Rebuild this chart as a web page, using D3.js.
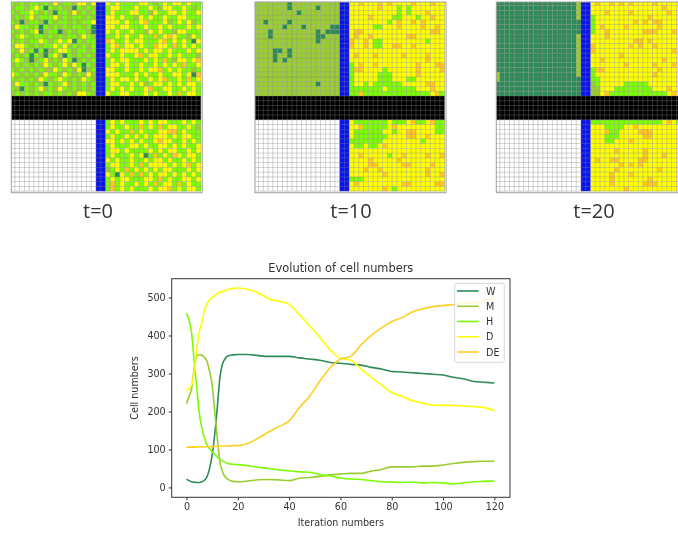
<!DOCTYPE html>
<html><head><meta charset="utf-8">
<script src="https://cdn.jsdelivr.net/npm/d3@7"></script>
<style>
html,body{margin:0;padding:0;background:#fff;overflow:hidden}
svg{display:block;filter:blur(0.5px)}
text{font-family:"DejaVu Sans",sans-serif;fill:#333}
</style></head><body>
<svg id="c" width="678" height="534"></svg>
<script>
// cell states: W M H D E(DE)
const upperLeft0=["HMHMHHMHMDMHHMDDMD","MHHMHDHWHMHMMWHMHM","HMHHDHMHMWHHMDMHMH","MHMHDMHHHDMHMHHMHM","HMWMHHMWHMHHMHMHHD","MDHHMHWHMHMHMHHMHW","HMHMHDWMHHWMHMHHMW","MHDHMHHMHMHMHHMDHM","HMHMHHDHMHDHDWHMHH","MDDHMHMHHDHDMHMHMH","HMDMHWHWMHDDHMHHMH","MHMHWHMWHDMWHMHMHM","HDHMWMHDMHMDHWMHMH","MHMHMHMDHMHDMDHWHM","HMHMHMHMMDHMHMDWMH","DHMHMHMDHHMDHMHMDM","HMHMHMDHMHDHMHMDHM","MDHHMHMWHMHDMHMHMH","HMWHMHDMHMDHMHMHMH","MHMHMHMHHMHMHMDDHM"];
const upperRight0=["DHDHHHHDDHMHDHDDHDHH","HDDHHHDHHDHMDDHHDHMH","HDHHHDDHHMDHHDDHDHHD","DDHDHHMDHDHHDHHDDHHH","DDDHDHHDEHHHDMHDHDMH","DDHDDHHHDHHDHDHHHDHD","DHDHHDHHMDHDHHMDDHHH","HHDHDHHDHHEHDEDHHMDH","EDHHDHDDHHHDEHDHDHWD","HDEHDDHDHHEDDHEHDHDH","HDHDDDDHDHDDHDHHHDHD","DHHDHHDEHDDHHDHDHHHM","HDHDDHHHDHDHEHMDDHDE","HDDHDHHDHHDHDHDHEHHD","DDHHDHHDHDDEHDHDHHMH","DDDHHHDHDHHDHHDDHDWE","HDHDDHDHHDHDEHHDHEHD","HDDHHDHDMHDDHDHDHDDH","HDHDHDHHDEHHDDHHDHDH","DHHDDHHHDHDHHDHEHDDH"];
const lowerRight0=["HDHDHHHDHDHDDHHHDHDH","HDHHDHHEHDHEHDDHHDHM","DHDHHEHDHHHDDEEHDHHH","HDHHDHDHDHDDDHDHDDHH","DDHDHDHDHHDEDDHHDHDH","HDHHHDDHDHHDDHDHDHHD","HDDHDHHHHDHDHDDHHDHD","HDHHHDHDWHEHDHEDHDDH","DHDHHDHHDHDDHDHHDHDH","HDDHHDHEHDDDDHDHDEHD","MHDHEHDHDHDHDDHHHDHD","DHWDHEHEHDHDDHDHDHDH","HDHDDHHHDDHEHDHHDDHD","HEHDHHDHDHEHDDHEHDHH","HEHDHDHHHDHDDEHDHDDH"];
const upperLeft10=["MMMMMMMWMMMMMMMMMM","MMMMMMMWMMMMMWMMMM","MMMMMMMMMWMMMMMMMM","MMMMMMMMMMMMMMMMMM","MMWMMMMWMMMMMMMMMM","MMMMMMWMMMWMMMMMWW","MMMWMMMMMMMMMWMWWW","MMMWMMMMMMMMMWWMMM","MMMMMMMMMMMMMWMMMM","MMMMMMMMMMMMMMMMMM","MMMMWWMWMMMMMMMMMM","MMMMWMMWMMMMMMMMMM","MMMMWMWMMMMMMMMMMM","MMMMMMMMMMMMMMMMMM","MMMMMMMMMMMMMMMMMM","MMMMMMMMMMMMMMMMMM","MMMMMMMMMMMMMMMMMM","MMMMMMMMMMMMMWMMMM","MMMMMMMMMMMMMMMMMM","MMMMMMMMMMMMMMMMMM"];
const upperRight10=["DDEDDDEDEDDDDEDDDEDD","DDDDDDEDDDHDHDDDDDDD","DDDDDDDDDDHDHDDDEDDD","DDDDEDDDDHHDDDHDDEDD","DDDDDDDDHDEDDEDEDDDD","DDDDDHHDDDEDDDDEDDED","DEEDDDDDDDDDDDDDDEED","DEDDEDDDDDDDEEDDDDDD","EDDEDHHDDDDDDDDDHDDD","EDDEDHHDDEEDDEDDDDDD","DDDDDDDDDDDDDDDDDDDD","DEDDDEDDDDDEDDDDEDDD","DDDDDDDDDDDDDDDDEDDD","HDEDDEDDDDDDDDEDDDEE","HEEDDDDHDDDDDDEDDDDE","HDDDDDHHHDDDDDEDDDDD","HDDDDDHHHDDDHHDDDDDD","HDDHDHHHHHHDDDDDEEDD","HHHHHHHDHHHHHHDDDEDD","HHEHHHHHHHHHHHHHHDEH"];
const lowerRight10=["DHHHHHHHDHHHDEHHDEHH","DDEHHHHHDEDDDDDDDDHH","DHHHHHHDDHDDEEDDDDHH","DHHHHHHHDDDDEEDDEDDD","HHHHHHHDDDDDDDDHDDDD","DHHDHHDEDDDDDDDDDDDD","DDDDDDDDDDDDDDDDDDDD","DDEDDDDDHDDEDDDDEDDE","DDDDEDDDDDEDDDDDDDDD","DDDDEEDDDDDEEDDDDEDD","DDDEDDEDDDDDDDDDEDDD","DDDDDDDEDDDDDDDDEDDE","HHHDDDDDDDDDDDDDDDDD","DEDDDDDDDDDEEDDDDDEE","DDDDDDDEDHDDDDDDDDDD"];
const upperLeft20=["WWWWWWWWWWWWWWWWWM","WWWWWWWWWWWWWWWWWM","WWWWWWWWWWWWWWWWWM","WWWWWWWWWWWWWWWWWM","WWWWWWWWWWWWWWWWWW","WWWWWWWWWWWWWWWWWW","WWWWWWWWWWWWWWWWWW","WWWWWWWWWWWWWWWWWM","WWWWWWWWWWWWWWWWWM","WWWWWWWWWWWWWWWWWM","WWWWWWWWWWWWWWWWWM","WWWWWWWWWWWWWWWWWM","WWWWWWWWWWWWWWWWWM","WWWWWWWWWWWWWWWWWM","WWWWWWWWWWWWWWWWWM","MWWWWWWWWWWWWWWWWM","MWWWWWWWWWWWWWWWWW","WWWWWWWWWWWWWWWWWW","WWWWWWWWWWWWWWWWWW","WWWWWWWWWWWWWWWWWW"];
const upperRight20=["DEDDEDEDEDDDDEDDDDDD","DDDDDDDDDDDDDDDEDDDD","DDDEDDDDEDDDDDDDEDDD","HDDDDDDDDDDDEDDDDDDD","HDDDDDDDDEDEDEEDDDDD","HDEDDDDEDDDDDDEDDDDD","HDDEDDDDDDDEEEDDDEDD","DDDEDDDDDDDDDDDDDDDD","DDDDDDDDDEEDEDDDDDDD","EDDDDDDDEDEDDEDDDDDD","EDDDDDDDDDDDDDDDDEDD","DDDDDDEDDDDDDDDDDDDD","DDEDDDDDDDDDDDDEDDDD","DDDDDDDEDDDDDEDDDEDD","HEEDDDDDDDDDDDEDDDDD","HDDDDDDDDDDDDEDDDDDD","HHDDDDDDDDDDDDDDDDDE","MHDDDDDHHHHHDDDDDDDD","MMDDDHHHHHHHHDDDEDDD","MMDEHHHHHHHHHHHHDEDD"];
const lowerRight20=["HHHHHHHHHHHHHHHDEDHD","DDDHHHHDDEDDDDDDDDDD","DDDEHHDDDDEEEDDDDDDD","DDDHHHDDDDDEEDDDDDDD","DDDHHDDDEDDDDDDDDDDD","DDDDDDDDDDDDDDDDDDDD","DDDDDEDDDDDEDDDDDDDD","DDDDDDDDDDDEDDDEDDDD","DEDDEEDDDDEEDDDDDDDD","DDDDDDEDEDEDDDDDDDDD","DDDDDEDDDDDDDDEDDDDD","DDDDEDDDEDDDDDDDDDDD","DDDDEDDDDDDDEDDDDDDD","DDDDEDDDDDDEEEDDDDDD","DDDDDDDEDDDDDDDDDDDD"];
const panelLabels=["t=0","t=10","t=20"];

// line chart data
const iterations=[0,1,2,3,4,5,6,7,8,9,10,11,12,13,14,15,16,18,20,24,28,32,36,40,44,48,52,56,60,64,68,72,76,80,84,88,92,96,100,104,108,112,116,120];
const seriesNames=["W","M","H","D","DE"];
const seriesW=[22,18,15,14,13,13,15,19,28,50,85,140,210,288,325,338,346,349,350,350,347,345,345,345,341,338,335,329,327,324,322,316,312,305,304,302,300,298,296,290,286,279,277,275];
const seriesM=[220,240,261,314,345,350,348,342,332,305,270,200,130,68,42,28,22,16,15,17,20,21,20,18,24,26,29,33,35,37,37,43,47,54,54,54,56,56,59,63,66,68,69,69];
const seriesH=[459,440,406,331,261,195,156,130,112,102,94,87,80,74,70,66,63,61,60,57,53,50,46,44,41,40,34,30,25,22,21,18,15,14,13,14,12,13,12,9,12,15,16,17];
const seriesD=[255,260,270,305,365,410,435,465,483,494,500,505,510,514,516,518,520,524,525,521,512,497,490,482,455,425,395,362,340,335,312,290,270,250,240,228,222,217,216,216,214,213,210,202];
const seriesDE=[106,106,106,106,106,107,107,107,107,107,107,108,108,109,109,109,109,110,110,116,130,146,160,175,210,240,280,315,338,345,375,400,420,437,447,462,470,476,479,481,485,486,492,497];
const xTicks=[0,20,40,60,80,100,120];
const yTicks=[0,100,200,300,400,500];
const chartTitle="Evolution of cell numbers",xLabel="Iteration numbers",yLabel="Cell numbers";

const stateColor={W:"#2e8b57",M:"#9acd32",H:"#7cfc00",D:"#ffff00",E:"#ffc81e"};
const lineColor=["#2e8b57","#9acd32","#7cfc00","#ffff00","#ffcf20"];
const svg=d3.select("#c");
const defs=svg.append("defs");

function drawPanel(px,labelX,i,ul,ur,lr){
  const side=191,pad=1.2;
  const cx=d3.scaleBand().domain(d3.range(40)).range([px-pad,px-pad+190.8]);
  const cy=d3.scaleBand().domain(d3.range(40)).range([2-pad,2-pad+190.4]);
  const id="clip"+i;
  defs.append("clipPath").attr("id",id).append("rect").attr("x",px).attr("y",2).attr("width",side).attr("height",190.7);
  const g=svg.append("g").attr("clip-path",`url(#${id})`);
  const cells=[];
  ul.forEach((r,ri)=>[...r].forEach((s,ci)=>cells.push({c:ci,r:ri,s})));
  ur.forEach((r,ri)=>[...r].forEach((s,ci)=>cells.push({c:ci+20,r:ri,s})));
  lr.forEach((r,ri)=>[...r].forEach((s,ci)=>cells.push({c:ci+20,r:ri+25,s})));
  g.selectAll("rect.cell").data(cells).join("rect").attr("class","cell")
    .attr("x",d=>cx(d.c)).attr("y",d=>cy(d.r)).attr("width",cx.bandwidth()+.05).attr("height",cy.bandwidth()+.05)
    .attr("fill",d=>stateColor[d.s]);
  g.append("rect").attr("x",cx(18)).attr("y",cy(0)).attr("width",2*cx.bandwidth()).attr("height",40*cy.bandwidth()).attr("fill","#0a14f0");
  g.append("rect").attr("x",cx(0)).attr("y",cy(20)).attr("width",40*cx.bandwidth()).attr("height",5*cy.bandwidth()).attr("fill","#000");
  const gl="#808080";
  g.selectAll("line.v").data(d3.range(41)).join("line").attr("class","v")
    .attr("x1",d=>cx(0)+d*cx.bandwidth()).attr("x2",d=>cx(0)+d*cx.bandwidth())
    .attr("y1",2).attr("y2",191).attr("stroke",gl).attr("stroke-width",.6).attr("opacity",.6);
  g.selectAll("line.h").data(d3.range(41)).join("line").attr("class","h")
    .attr("y1",d=>cy(0)+d*cy.bandwidth()).attr("y2",d=>cy(0)+d*cy.bandwidth())
    .attr("x1",px).attr("x2",px+side-1).attr("stroke",gl).attr("stroke-width",.6).attr("opacity",.6);
  svg.append("rect").attr("x",px).attr("y",2).attr("width",side).attr("height",190.7)
    .attr("fill","none").attr("stroke","#a0a0a0").attr("stroke-width",1);
  svg.append("text").attr("x",labelX).attr("y",218).attr("text-anchor","middle")
    .style("font-family","'Open Sans',sans-serif").style("font-size","20px").text(panelLabels[i]);
}
drawPanel(11.3,98,0,upperLeft0,upperRight0,lowerRight0);
drawPanel(255,351,1,upperLeft10,upperRight10,lowerRight10);
drawPanel(496.3,594,2,upperLeft20,upperRight20,lowerRight20);

// line chart
const L=171.7,R=510,T=278.7,B=497.3;
const x=d3.scaleLinear().domain([-5.77,126.1]).range([L,R]);
const y=d3.scaleLinear().domain([-26,549.5]).range([B,T]);
const gx=svg.append("g").attr("transform",`translate(0,${B})`).call(d3.axisBottom(x).tickValues(xTicks).tickSize(3).tickPadding(3));
const gy=svg.append("g").attr("transform",`translate(${L},0)`).call(d3.axisLeft(y).tickValues(yTicks).tickSize(3).tickPadding(3));
[gx,gy].forEach(a=>{a.select(".domain").remove();a.selectAll("line").attr("stroke","#333");a.selectAll("text").style("font-size","9.6px").style("font-family","'DejaVu Sans'").attr("fill","#333");});
const line=d3.line().x((d,i)=>x(iterations[i])).y(d=>y(d)).curve(d3.curveMonotoneX);
[seriesW,seriesM,seriesH,seriesD,seriesDE].forEach((s,i)=>{
  svg.append("path").datum(s).attr("d",line).attr("fill","none").attr("stroke",lineColor[i]).attr("stroke-width",1.6);
});
svg.append("rect").attr("x",L).attr("y",T).attr("width",R-L).attr("height",B-T).attr("fill","none").attr("stroke","#333").attr("stroke-width",1);
svg.append("text").attr("x",(L+R)/2).attr("y",272).attr("text-anchor","middle").style("font-size","11.4px").text(chartTitle);
svg.append("text").attr("x",(L+R)/2).attr("y",526).attr("text-anchor","middle").style("font-size","9.6px").text(xLabel);
svg.append("text").attr("transform",`translate(138,${(T+B)/2}) rotate(-90)`).attr("text-anchor","middle").style("font-size","9.6px").text(yLabel);
// legend
svg.append("rect").attr("x",454.7).attr("y",283.3).attr("width",49.6).attr("height",79).attr("rx",2)
  .attr("fill","#fff").attr("fill-opacity",.8).attr("stroke","#ccc").attr("stroke-width",.8);
const legendY=d3.scalePoint().domain(seriesNames).range([291,352]);
seriesNames.forEach((n,i)=>{
  svg.append("line").attr("x1",457).attr("x2",478.7).attr("y1",legendY(n)).attr("y2",legendY(n)).attr("stroke",lineColor[i]).attr("stroke-width",1.6);
  svg.append("text").attr("x",486).attr("y",legendY(n)+3.5).style("font-size","9.6px").text(n);
});
</script></body></html>
